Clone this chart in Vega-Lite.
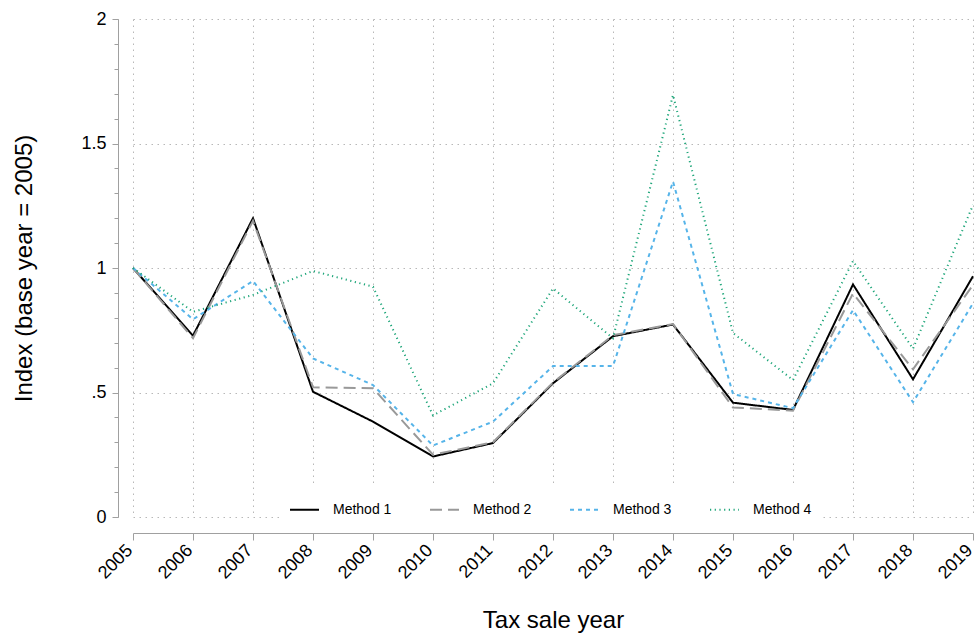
{
  "$schema": "https://vega.github.io/schema/vega-lite/v6.json",
  "autosize": {"type": "none"},
  "padding": {"left": 133, "top": 19, "right": 4, "bottom": 118},
  "width": 840,
  "height": 498,
  "config": {
    "font": "Liberation Sans",
    "view": {"stroke": null},
    "axis": {"domainColor": "#a0a0a0", "tickColor": "#a0a0a0", "labelColor": "#000000", "titleColor": "#000000", "titleFontWeight": "normal"}
  },
  "data": {
    "values": [
      {"year": 2005, "method": "Method 1", "value": 1.0},
      {"year": 2006, "method": "Method 1", "value": 0.728},
      {"year": 2007, "method": "Method 1", "value": 1.2},
      {"year": 2008, "method": "Method 1", "value": 0.503},
      {"year": 2009, "method": "Method 1", "value": 0.383},
      {"year": 2010, "method": "Method 1", "value": 0.243},
      {"year": 2011, "method": "Method 1", "value": 0.297},
      {"year": 2012, "method": "Method 1", "value": 0.537},
      {"year": 2013, "method": "Method 1", "value": 0.726},
      {"year": 2014, "method": "Method 1", "value": 0.773},
      {"year": 2015, "method": "Method 1", "value": 0.459},
      {"year": 2016, "method": "Method 1", "value": 0.43},
      {"year": 2017, "method": "Method 1", "value": 0.934},
      {"year": 2018, "method": "Method 1", "value": 0.553},
      {"year": 2019, "method": "Method 1", "value": 0.967},
      {"year": 2005, "method": "Method 2", "value": 1.0},
      {"year": 2006, "method": "Method 2", "value": 0.718},
      {"year": 2007, "method": "Method 2", "value": 1.19},
      {"year": 2008, "method": "Method 2", "value": 0.521},
      {"year": 2009, "method": "Method 2", "value": 0.517},
      {"year": 2010, "method": "Method 2", "value": 0.25},
      {"year": 2011, "method": "Method 2", "value": 0.3},
      {"year": 2012, "method": "Method 2", "value": 0.54},
      {"year": 2013, "method": "Method 2", "value": 0.73},
      {"year": 2014, "method": "Method 2", "value": 0.775},
      {"year": 2015, "method": "Method 2", "value": 0.44},
      {"year": 2016, "method": "Method 2", "value": 0.427},
      {"year": 2017, "method": "Method 2", "value": 0.898},
      {"year": 2018, "method": "Method 2", "value": 0.593},
      {"year": 2019, "method": "Method 2", "value": 0.932},
      {"year": 2005, "method": "Method 3", "value": 1.0},
      {"year": 2006, "method": "Method 3", "value": 0.794},
      {"year": 2007, "method": "Method 3", "value": 0.948},
      {"year": 2008, "method": "Method 3", "value": 0.637},
      {"year": 2009, "method": "Method 3", "value": 0.53},
      {"year": 2010, "method": "Method 3", "value": 0.287},
      {"year": 2011, "method": "Method 3", "value": 0.383},
      {"year": 2012, "method": "Method 3", "value": 0.606},
      {"year": 2013, "method": "Method 3", "value": 0.606},
      {"year": 2014, "method": "Method 3", "value": 1.347},
      {"year": 2015, "method": "Method 3", "value": 0.494},
      {"year": 2016, "method": "Method 3", "value": 0.437},
      {"year": 2017, "method": "Method 3", "value": 0.831},
      {"year": 2018, "method": "Method 3", "value": 0.461},
      {"year": 2019, "method": "Method 3", "value": 0.858},
      {"year": 2005, "method": "Method 4", "value": 1.0},
      {"year": 2006, "method": "Method 4", "value": 0.824},
      {"year": 2007, "method": "Method 4", "value": 0.892},
      {"year": 2008, "method": "Method 4", "value": 0.988},
      {"year": 2009, "method": "Method 4", "value": 0.925},
      {"year": 2010, "method": "Method 4", "value": 0.408},
      {"year": 2011, "method": "Method 4", "value": 0.537},
      {"year": 2012, "method": "Method 4", "value": 0.918},
      {"year": 2013, "method": "Method 4", "value": 0.718},
      {"year": 2014, "method": "Method 4", "value": 1.695},
      {"year": 2015, "method": "Method 4", "value": 0.739},
      {"year": 2016, "method": "Method 4", "value": 0.55},
      {"year": 2017, "method": "Method 4", "value": 1.028},
      {"year": 2018, "method": "Method 4", "value": 0.676},
      {"year": 2019, "method": "Method 4", "value": 1.253}
    ]
  },
  "resolve": {"axis": {"y": "independent"}},
  "layer": [
    {
      "mark": {"type": "line", "opacity": 0},
      "encoding": {
        "x": {"field": "year", "type": "quantitative", "scale": {"domain": [2005, 2019], "nice": false, "zero": false}},
        "y": {
          "field": "value", "type": "quantitative",
          "scale": {"domain": [0, 2], "nice": false},
          "axis": {"orient": "left", "offset": 15, "values": [0,0.1,0.2,0.3,0.4,0.5,0.6,0.7,0.8,0.9,1,1.1,1.2,1.3,1.4,1.5,1.6,1.7,1.8,1.9,2], "labels": false, "tickSize": 4, "grid": false, "domain": true, "title": null}
        },
        "detail": {"field": "method"}
      }
    },
    {
      "mark": {"type": "line", "strokeCap": "butt"},
      "encoding": {
        "x": {
          "field": "year", "type": "quantitative",
          "scale": {"domain": [2005, 2019], "nice": false, "zero": false},
          "axis": {
            "values": [2005,2006,2007,2008,2009,2010,2011,2012,2013,2014,2015,2016,2017,2018,2019],
            "format": "d", "labelAngle": -45, "labelAlign": "right", "labelBaseline": "alphabetic",
            "labelFontSize": 18, "labelPadding": 11,
            "offset": 16, "tickSize": 7, "grid": true, "gridDash": [1.5, 4.5], "gridColor": "#b8b8b8",
            "title": "Tax sale year", "titleFontSize": 24, "titlePadding": 26
          }
        },
        "y": {
          "field": "value", "type": "quantitative",
          "scale": {"domain": [0, 2], "nice": false},
          "axis": {
            "orient": "left", "offset": 15, "values": [0, 0.5, 1, 1.5, 2], "format": "~g",
            "labelExpr": "datum.value == 0.5 ? '.5' : datum.label",
            "labelFontSize": 18, "labelPadding": 6, "tickSize": 6, "domain": false,
            "grid": true, "gridDash": [1.5, 4.5], "gridColor": "#b8b8b8",
            "title": "Index (base year = 2005)", "titleFontSize": 24, "titlePadding": 44
          }
        },
        "color": {
          "field": "method", "type": "nominal",
          "scale": {"domain": ["Method 1", "Method 2", "Method 3", "Method 4"], "range": ["#000000", "#999999", "#56B4E9", "#1FA67A"]},
          "legend": {
            "title": null, "orient": "none", "direction": "horizontal",
            "legendX": 146, "legendY": 465, "padding": 10, "fillColor": "#ffffff",
            "symbolType": "stroke", "symbolSize": 841, "symbolStrokeWidth": 2,
            "labelFontSize": 14, "labelOffset": 13, "columnPadding": 34
          }
        },
        "strokeDash": {
          "field": "method", "type": "nominal",
          "scale": {"domain": ["Method 1", "Method 2", "Method 3", "Method 4"], "range": [[1, 0], [12, 6], [4, 4], [1.2, 3.5]]}
        },
        "strokeWidth": {
          "field": "method", "type": "nominal",
          "scale": {"domain": ["Method 1", "Method 2", "Method 3", "Method 4"], "range": [2, 2, 2.5, 1.3]},
          "legend": null
        }
      }
    }
  ]
}
